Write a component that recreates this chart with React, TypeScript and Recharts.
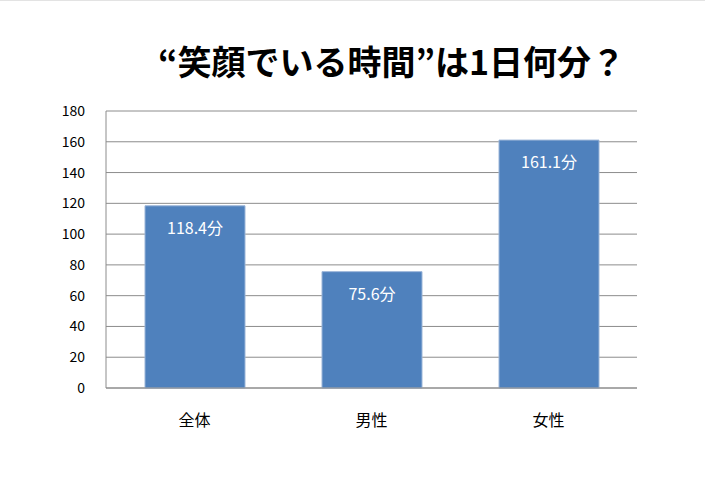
import { Bar, BarChart, CartesianGrid, LabelList, XAxis, YAxis } from 'recharts';

const CATEGORIES = ['全体', '男性', '女性'];
const MINUTES = [118.4, 75.6, 161.1];
const Y_TICKS = [0, 20, 40, 60, 80, 100, 120, 140, 160, 180];
const TITLE = '“笑顔でいる時間”は1日何分？';

const BAR_COLOR = '#4f81bd';
const GRID_COLOR = '#8c8c8c';
const FONT = '"Noto Sans CJK JP", "Noto Sans", sans-serif';

const data = CATEGORIES.map((name, i) => ({ name, value: MINUTES[i] }));

export default function App() {
  return (
    <div style={{ position: 'relative', width: 705, height: 494, background: '#fff', fontFamily: FONT }}>
      <style>{'body{margin:0}'}</style>
      <div style={{ position: 'absolute', left: 0, top: 0, width: 705, height: 1, background: '#e3e3e3' }} />
      <div
        style={{
          position: 'absolute',
          left: 0,
          width: 783,
          top: 40,
          textAlign: 'center',
          fontSize: 34,
          fontWeight: 'bold',
          lineHeight: '42px',
          color: '#000',
        }}
      >
        {TITLE}
      </div>
      {/* 軸の位置は元画像に合わせて margin で調整 */}
      <BarChart width={705} height={494} data={data} margin={{ top: 111, right: 68, bottom: 76, left: 46 }} barSize={100}>
        <CartesianGrid vertical={false} stroke={GRID_COLOR} />
        <XAxis
          dataKey="name"
          height={30}
          axisLine={{ stroke: GRID_COLOR }}
          tickLine={false}
          tickSize={0}
          tickMargin={27}
          tick={{ fill: '#000', fontSize: 16, fontFamily: FONT }}
        />
        <YAxis
          domain={[0, 180]}
          ticks={Y_TICKS}
          width={60}
          axisLine={{ stroke: GRID_COLOR }}
          tickLine={false}
          tickSize={0}
          tickMargin={21}
          tick={{ fill: '#000', fontSize: 14, fontFamily: FONT }}
          interval={0}
        />
        <Bar dataKey="value" fill={BAR_COLOR} stroke="#9bb5d8" strokeWidth={1} isAnimationActive={false}>
          <LabelList
            dataKey="value"
            position="insideTop"
            offset={17}
            formatter={(v: any) => `${Number(v).toFixed(1)}分`}
            style={{ fill: '#fff', fontSize: 16, fontFamily: FONT }}
          />
        </Bar>
      </BarChart>
    </div>
  );
}
